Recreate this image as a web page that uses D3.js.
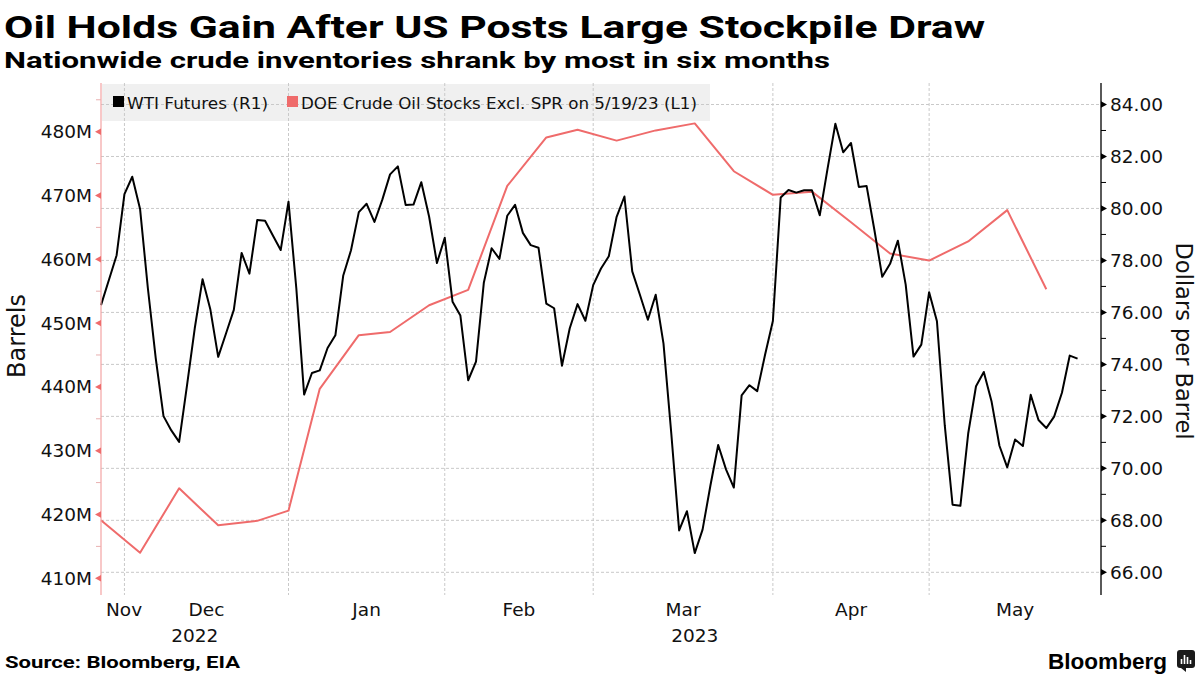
<!DOCTYPE html>
<html><head><meta charset="utf-8">
<script src="https://cdn.jsdelivr.net/npm/d3@7"></script>
<style>body{margin:0;background:#fff}svg{display:block}</style>
</head><body>
<svg id="chart" width="1200" height="675"></svg>
<script>
// ---------- DATA ----------
const daysNov22 = [25, 28, 29, 30];
const daysDec22 = [1, 2, 5, 6, 7, 8, 9, 12, 13, 14, 15, 16, 19, 20, 21, 22, 23, 27, 28, 29, 30];
const daysJan23 = [3, 4, 5, 6, 9, 10, 11, 12, 13, 17, 18, 19, 20, 23, 24, 25, 26, 27, 30, 31];
const daysFeb23 = [1, 2, 3, 6, 7, 8, 9, 10, 13, 14, 15, 16, 17, 21, 22, 23, 24, 27, 28];
const daysMar23 = [1, 2, 3, 6, 7, 8, 9, 10, 13, 14, 15, 16, 17, 20, 21, 22, 23, 24, 27, 28, 29, 30, 31];
const daysApr23 = [3, 4, 5, 6, 7, 10, 11, 12, 13, 14, 17, 18, 19, 20, 21, 24, 25, 26, 27, 28];
const daysMay23 = [1, 2, 3, 4, 5, 8, 9, 10, 11, 12, 15, 16, 17, 18, 19, 22, 23, 24, 25];

// WTI Futures (R1), USD per barrel, one value per trading day above
const wtiValues = [
  76.28, 77.24, 78.20, 80.55,
  81.22, 79.98, 76.93, 74.25, 72.01, 71.46, 71.02, 73.17, 75.39, 77.28, 76.11, 74.29, 75.19, 76.10, 78.29, 77.49, 79.56, 79.53, 78.96, 78.40, 80.26,
  76.93, 72.84, 73.67, 73.77, 74.63, 75.12, 77.41, 78.39, 79.86, 80.18, 79.48, 80.33, 81.31, 81.62, 80.13, 80.15, 81.01, 79.68, 77.90, 78.87,
  76.41, 75.88, 73.39, 74.11, 77.14, 78.47, 78.06, 79.72, 80.14, 79.06, 78.59, 78.49, 76.34, 76.16, 73.95, 75.39, 76.32, 75.68, 77.05,
  77.69, 78.16, 79.68, 80.46, 77.58, 76.66, 75.72, 76.68, 74.80, 71.33, 67.61, 68.35, 66.74, 67.64, 69.33, 70.90, 69.96, 69.26, 72.81, 73.20, 72.97, 74.37, 75.67,
  80.42, 80.71, 80.61, 80.70, 80.70, 79.74, 81.53, 83.26, 82.16, 82.52, 80.83, 80.86, 79.16, 77.37, 77.87, 78.76, 77.07, 74.30, 74.76, 76.78,
  75.66, 71.66, 68.60, 68.56, 71.34, 73.16, 73.71, 72.56, 70.87, 70.04, 71.11, 70.86, 72.83, 71.86, 71.55, 71.99, 72.91, 74.34, 74.22
];

// DOE crude oil stocks excl. SPR, million barrels, weekly (week ending)
const doeDates = [
  "2022-11-25", "2022-12-02", "2022-12-09", "2022-12-16", "2022-12-23", "2022-12-30",
  "2023-01-06", "2023-01-13", "2023-01-20", "2023-01-27", "2023-02-03", "2023-02-10",
  "2023-02-17", "2023-02-24", "2023-03-03", "2023-03-10", "2023-03-17", "2023-03-24",
  "2023-03-31", "2023-04-07", "2023-04-14", "2023-04-21", "2023-04-28", "2023-05-05",
  "2023-05-12", "2023-05-19"
];
const doeValues = [
  419.1, 414.0, 424.1, 418.3, 419.0, 420.6,
  439.7, 448.1, 448.6, 452.8, 455.2, 471.5,
  479.1, 480.3, 478.6, 480.2, 481.3, 473.8,
  470.1, 470.6, 465.8, 460.9, 459.8, 462.8,
  467.7, 455.3
];

const leftTicks = [410, 420, 430, 440, 450, 460, 470, 480];
const leftMinorTicks = [415, 425, 435, 445, 455, 465, 475, 485];
const rightTicks = [66, 68, 70, 72, 74, 76, 78, 80, 82, 84];
const rightMinorTicks = [67, 69, 71, 73, 75, 77, 79, 81, 83];
const monthNames = ["Jan","Feb","Mar","Apr","May","Jun","Jul","Aug","Sep","Oct","Nov","Dec"];

const title = "Oil Holds Gain After US Posts Large Stockpile Draw";
const subtitle = "Nationwide crude inventories shrank by most in six months";
const source = "Source: Bloomberg, EIA";
const legendLabels = ["WTI Futures (R1)", "DOE Crude Oil Stocks Excl. SPR on 5/19/23 (L1)"];

// ---------- BUILD ----------
(function () {
const pad = n => String(n).padStart(2, "0");
const monthBlocks = [["2022-11", daysNov22], ["2022-12", daysDec22], ["2023-01", daysJan23],
  ["2023-02", daysFeb23], ["2023-03", daysMar23], ["2023-04", daysApr23], ["2023-05", daysMay23]];
const dates = [];
monthBlocks.forEach(([ym, ds]) => ds.forEach(d => dates.push(ym + "-" + pad(d))));
const idxOf = new Map(dates.map((d, i) => [d, i]));

const wti = wtiValues.map((v, i) => ({i, v}));
const doe = doeDates.map((d, k) => ({i: idxOf.get(d), v: doeValues[k]}));

const FONT = "'DejaVu Sans', sans-serif";
const TFONT = "Roboto, 'Liberation Sans', sans-serif";
const RED = "#ef6b6b";

const pL = 101, pR = 1101, pT = 83, pB = 595;
const x = d3.scaleLinear().domain([0, 128]).range([pL, pR]);
const yL = d3.scaleLinear().domain([407.38, 487.63]).range([pB, pT]);
const yR = d3.scaleLinear().domain([65.127, 84.827]).range([pB, pT]);

const svg = d3.select("#chart");
svg.append("rect").attr("width", 1200).attr("height", 675).attr("fill", "#fff");

// titles
svg.append("text").attr("x", 4).attr("y", 38).text(title)
  .attr("font-family", TFONT).attr("font-weight", 700).attr("font-size", 32).attr("fill", "#000")
  .attr("textLength", 981).attr("lengthAdjust", "spacingAndGlyphs");
svg.append("text").attr("x", 4).attr("y", 67.5).text(subtitle)
  .attr("font-family", TFONT).attr("font-weight", 700).attr("font-size", 22).attr("fill", "#000")
  .attr("textLength", 826).attr("lengthAdjust", "spacingAndGlyphs");

// legend background
svg.append("rect").attr("x", pL + 1).attr("y", 84).attr("width", 608).attr("height", 37).attr("fill", "#f0f0f0");

// horizontal gridlines (right axis majors)
svg.append("g").selectAll("line").data(rightTicks).join("line")
  .attr("x1", pL).attr("x2", pR).attr("y1", d => yR(d)).attr("y2", d => yR(d))
  .attr("stroke", "#c9c9c9").attr("stroke-width", 1).attr("stroke-dasharray", "3,2");

// month boundaries (last trading day of each month)
const monthEnds = [];
for (let i = 0; i < dates.length - 1; i++) {
  if (dates[i].slice(0, 7) !== dates[i + 1].slice(0, 7)) monthEnds.push(i);
}
svg.append("g").selectAll("line").data(monthEnds).join("line")
  .attr("x1", d => x(d)).attr("x2", d => x(d)).attr("y1", pT).attr("y2", pB)
  .attr("stroke", "#c9c9c9").attr("stroke-width", 1).attr("stroke-dasharray", "3,2");

// legend items
const leg = svg.append("g").attr("font-family", FONT).attr("font-size", 16.7).attr("fill", "#111");
leg.append("rect").attr("x", 113).attr("y", 96).attr("width", 11).attr("height", 11).attr("fill", "#000");
leg.append("text").attr("x", 127).attr("y", 108.5).text(legendLabels[0])
  .attr("textLength", 141).attr("lengthAdjust", "spacingAndGlyphs");
leg.append("rect").attr("x", 287).attr("y", 96).attr("width", 11).attr("height", 11).attr("fill", RED);
leg.append("text").attr("x", 301).attr("y", 108.5).text(legendLabels[1])
  .attr("textLength", 396).attr("lengthAdjust", "spacingAndGlyphs");

// lines
svg.append("path").datum(doe)
  .attr("d", d3.line().x(d => x(d.i)).y(d => yL(d.v)))
  .attr("fill", "none").attr("stroke", RED).attr("stroke-width", 2).attr("stroke-linejoin", "round");
svg.append("path").datum(wti)
  .attr("d", d3.line().x(d => x(d.i)).y(d => yR(d.v)))
  .attr("fill", "none").attr("stroke", "#000").attr("stroke-width", 2).attr("stroke-linejoin", "round");

// left axis
const gL = svg.append("g");
gL.append("line").attr("x1", pL).attr("x2", pL).attr("y1", pT).attr("y2", pB)
  .attr("stroke", "#f3a3a3").attr("stroke-width", 1.2);
gL.selectAll(".mn").data(leftMinorTicks.filter(d => yL(d) > pT)).join("line")
  .attr("x1", pL - 5).attr("x2", pL).attr("y1", d => yL(d)).attr("y2", d => yL(d))
  .attr("stroke", "#e9b0b0").attr("stroke-width", 1);
gL.selectAll(".mj").data(leftTicks).join("path")
  .attr("d", d => `M${pL},${yL(d) - 3.2}L${pL - 6},${yL(d)}L${pL},${yL(d) + 3.2}Z`)
  .attr("fill", RED);
gL.selectAll("text").data(leftTicks).join("text")
  .attr("x", pL - 9).attr("y", d => yL(d) + 6.5).attr("text-anchor", "end")
  .attr("font-family", FONT).attr("font-size", 18.5).attr("fill", "#111")
  .text(d => d + "M");
svg.append("text").attr("transform", "translate(25,336) rotate(-90)")
  .attr("text-anchor", "middle").attr("font-family", FONT).attr("font-size", 24).attr("fill", "#111")
  .text("Barrels");

// right axis
const gR = svg.append("g");
gR.append("line").attr("x1", pR).attr("x2", pR).attr("y1", pT).attr("y2", pB)
  .attr("stroke", "#000").attr("stroke-width", 1.3);
gR.selectAll(".mn").data(rightMinorTicks).join("line")
  .attr("x1", pR).attr("x2", pR + 5).attr("y1", d => yR(d)).attr("y2", d => yR(d))
  .attr("stroke", "#000").attr("stroke-width", 1);
gR.selectAll(".mj").data(rightTicks).join("path")
  .attr("d", d => `M${pR},${yR(d) - 3.2}L${pR + 6},${yR(d)}L${pR},${yR(d) + 3.2}Z`)
  .attr("fill", "#000");
gR.selectAll("text").data(rightTicks).join("text")
  .attr("x", pR + 9).attr("y", d => yR(d) + 6.5)
  .attr("font-family", FONT).attr("font-size", 18.5).attr("fill", "#111")
  .text(d => d.toFixed(2));
svg.append("text").attr("transform", "translate(1176,341) rotate(90)")
  .attr("text-anchor", "middle").attr("font-family", FONT).attr("font-size", 22.5).attr("fill", "#111")
  .text("Dollars per Barrel");

// month labels (centred in each month span)
const bounds = monthEnds.concat([128]);
const monthSpans = bounds.map((b, k) => {
  const ref = dates[Math.min(b, dates.length - 1)];
  return {m: +ref.slice(5, 7) - 1, a: k === 0 ? 0 : bounds[k - 1], b};
});
const gM = svg.append("g").attr("font-family", FONT).attr("font-size", 18.5).attr("fill", "#111")
  .attr("text-anchor", "middle");
monthSpans.forEach(s => {
  const t = gM.append("text").attr("y", 616).text(monthNames[s.m]);
  let cx = (x(s.a) + x(s.b)) / 2;
  const w = t.node().getComputedTextLength();
  if (cx - w / 2 < pL + 5) cx = pL + 5 + w / 2;
  t.attr("x", cx);
});
// year labels centred in each year span
const lastOf2022 = dates.filter(d => d.startsWith("2022")).length - 1;
const years = [{y: "2022", a: 0, b: lastOf2022}, {y: "2023", a: lastOf2022, b: 128}];
gM.selectAll(".yr").data(years).join("text")
  .attr("x", d => (x(d.a) + x(d.b)) / 2).attr("y", 642).text(d => d.y);

// footer
svg.append("text").attr("x", 5).attr("y", 668).text(source)
  .attr("font-family", TFONT).attr("font-weight", 700).attr("font-size", 17).attr("fill", "#000")
  .attr("textLength", 235).attr("lengthAdjust", "spacingAndGlyphs");
svg.append("text").attr("x", 1048).attr("y", 669).text("Bloomberg")
  .attr("font-family", "'Liberation Sans', Arial, sans-serif").attr("font-weight", 700)
  .attr("font-size", 22).attr("fill", "#000")
  .attr("textLength", 119).attr("lengthAdjust", "spacingAndGlyphs");
const icon = svg.append("g").attr("transform", "translate(1177,650)");
icon.append("rect").attr("width", 18).attr("height", 18).attr("rx", 3).attr("fill", "#1a1a1a");
icon.append("path").attr("d", "M4,18L9,22L9,18Z").attr("fill", "#1a1a1a");
[[4.5, 9, 5], [7.5, 5, 9], [10.5, 7, 7], [13.5, 10, 4]].forEach(([bx, by, bh]) =>
  icon.append("rect").attr("x", bx - 0.8).attr("y", by).attr("width", 1.6).attr("height", bh).attr("fill", "#fff"));
})();
</script>
</body></html>
